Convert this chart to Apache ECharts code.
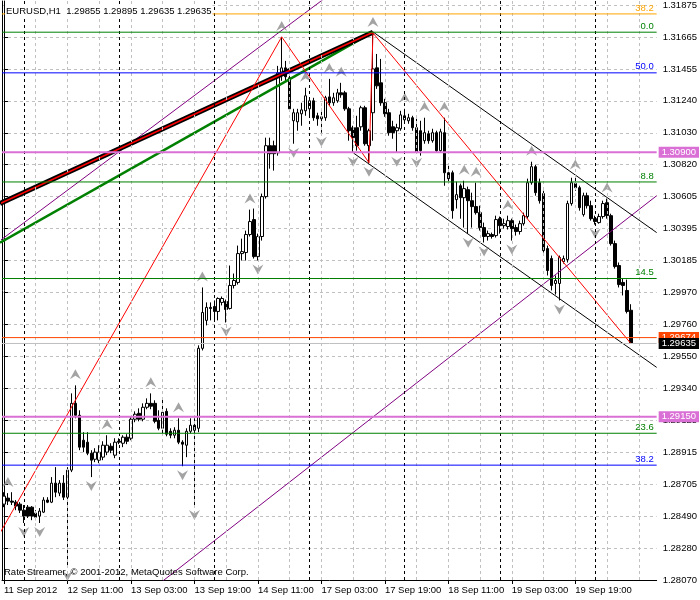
<!DOCTYPE html>
<html><head><meta charset="utf-8">
<script src="https://cdn.jsdelivr.net/npm/echarts@6/dist/echarts.min.js"></script>
<style>html,body{margin:0;padding:0;background:#fff}#c{width:700px;height:600px}</style>
</head><body><div id="c"></div>
<script>
// ---- data (EURUSD H1, one entry per bar, bar 0 = 11 Sep 2012 19:00) ----
const open = [1.28572,1.28612,1.28592,1.28585,1.28572,1.28532,1.28552,1.28552,1.28513,1.28493,
1.28519,1.28599,1.28585,1.28711,1.28645,1.28711,1.28618,1.28797,1.29239,1.29160,
1.28995,1.28982,1.28909,1.28869,1.28863,1.28883,1.28916,1.28955,1.28896,1.28988,
1.28975,1.29015,1.29008,1.29134,1.29173,1.29134,1.29213,1.29239,1.29239,1.29127,
1.29074,1.29186,1.29054,1.29028,1.29061,1.28982,1.28962,1.29054,1.29094,1.29074,
1.29603,1.29788,1.29874,1.29880,1.29847,1.29907,1.29913,1.29867,1.30019,1.30039,
1.30230,1.30237,1.30356,1.30455,1.30210,1.30343,1.30607,1.30944,1.30944,1.30897,
1.31419,1.31459,1.31393,1.31109,1.31102,1.31155,1.31175,1.31188,1.31241,1.31142,
1.31122,1.31129,1.31267,1.31228,1.31241,1.31294,1.31294,1.31188,1.31063,1.31063,
1.31069,1.31195,1.30944,1.31162,1.31459,1.31360,1.31228,1.31162,1.31069,1.31043,
1.31056,1.31115,1.31109,1.31129,1.31063,1.31043,1.30977,1.31023,1.30977,1.31030,
1.30911,1.31030,1.30765,1.30765,1.30587,1.30679,1.30600,1.30653,1.30580,1.30541,
1.30501,1.30402,1.30343,1.30356,1.30349,1.30461,1.30415,1.30409,1.30448,1.30402,
1.30376,1.30428,1.30475,1.30699,1.30805,1.30699,1.30627,1.30263,1.30197,1.30032,
1.30032,1.30177,1.30191,1.30561,1.30693,1.30666,1.30488,1.30613,1.30547,1.30461,
1.30435,1.30475,1.30567,1.30481,1.30296,1.30151,1.30039,1.29986,1.29855];
const high = [1.28651,1.28645,1.28651,1.28599,1.28585,1.28566,1.28566,1.28559,1.28532,1.28546,
1.28618,1.28618,1.28751,1.28817,1.28731,1.28764,1.28817,1.29305,1.29358,1.29193,
1.29048,1.29048,1.28929,1.28942,1.28962,1.28988,1.29028,1.28975,1.29008,1.29008,
1.29028,1.29035,1.29153,1.29186,1.29206,1.29239,1.29272,1.29305,1.29259,1.29193,
1.29272,1.29206,1.29074,1.29081,1.29140,1.28995,1.29074,1.29140,1.29140,1.29623,
1.30006,1.29907,1.29907,1.29920,1.29940,1.29946,1.29926,1.30151,1.30098,1.30283,
1.30329,1.30382,1.30521,1.30528,1.30362,1.30627,1.30997,1.30997,1.30977,1.31472,
1.31664,1.31505,1.31426,1.31188,1.31188,1.31228,1.31327,1.31254,1.31261,1.31162,
1.31188,1.31274,1.31386,1.31294,1.31320,1.31360,1.31307,1.31201,1.31076,1.31142,
1.31208,1.31208,1.31056,1.31690,1.31551,1.31518,1.31254,1.31188,1.31109,1.31089,
1.31175,1.31188,1.31155,1.31142,1.31122,1.31109,1.31129,1.31043,1.31056,1.31043,
1.31056,1.31129,1.30812,1.30779,1.30706,1.30693,1.30712,1.30673,1.30633,1.30699,
1.30547,1.30435,1.30382,1.30369,1.30481,1.30475,1.30461,1.30481,1.30461,1.30422,
1.30448,1.30501,1.30726,1.30838,1.30818,1.30726,1.30646,1.30283,1.30217,1.30085,
1.30217,1.30217,1.30580,1.30732,1.30746,1.30679,1.30633,1.30633,1.30580,1.30481,
1.30494,1.30580,1.30594,1.30494,1.30316,1.30171,1.30065,1.30058,1.29895];
const low = [1.28552,1.28566,1.28566,1.28532,1.28513,1.28447,1.28480,1.28466,1.28466,1.28447,
1.28513,1.28579,1.28579,1.28618,1.28625,1.28599,1.28156,1.28784,1.29140,1.28929,
1.28916,1.28896,1.28751,1.28850,1.28843,1.28863,1.28896,1.28909,1.28876,1.28969,
1.28949,1.28969,1.28995,1.29114,1.29120,1.29120,1.29200,1.29200,1.29107,1.29061,
1.29041,1.29021,1.29008,1.29008,1.28969,1.28823,1.28883,1.29041,1.28559,1.29048,
1.29589,1.29755,1.29788,1.29788,1.29788,1.29887,1.29774,1.29860,1.29999,1.30025,
1.30184,1.30184,1.30343,1.30197,1.30184,1.30316,1.30594,1.30792,1.30779,1.30878,
1.31373,1.31373,1.31175,1.30957,1.31043,1.31076,1.31142,1.31129,1.31109,1.31076,
1.31030,1.31109,1.31208,1.31208,1.31228,1.31261,1.31175,1.30977,1.30897,1.30911,
1.31043,1.30944,1.30831,1.30977,1.31320,1.31208,1.31135,1.31010,1.30990,1.30897,
1.31043,1.31096,1.31089,1.31043,1.30891,1.30878,1.30957,1.30957,1.30964,1.30897,
1.30897,1.30679,1.30699,1.30461,1.30528,1.30461,1.30402,1.30362,1.30402,1.30488,
1.30382,1.30303,1.30316,1.30329,1.30336,1.30362,1.30395,1.30389,1.30316,1.30349,
1.30356,1.30415,1.30461,1.30686,1.30613,1.30561,1.30237,1.30085,1.29986,1.29959,
1.29920,1.30164,1.30171,1.30547,1.30646,1.30514,1.30475,1.30528,1.30448,1.30422,
1.30428,1.30461,1.30461,1.30283,1.30131,1.30006,1.29953,1.29834,1.29635];
const close = [1.28625,1.28592,1.28585,1.28559,1.28532,1.28493,1.28493,1.28493,1.28486,1.28526,
1.28599,1.28585,1.28711,1.28651,1.28711,1.28618,1.28797,1.29239,1.29160,1.28949,
1.28949,1.28909,1.28863,1.28916,1.28916,1.28962,1.28962,1.28929,1.28982,1.28982,
1.29015,1.28988,1.29134,1.29167,1.29134,1.29213,1.29239,1.29220,1.29120,1.29074,
1.29180,1.29035,1.29028,1.29061,1.28982,1.28969,1.29054,1.29094,1.29061,1.29603,
1.29840,1.29874,1.29867,1.29847,1.29933,1.29933,1.29860,1.30019,1.30052,1.30230,
1.30243,1.30356,1.30442,1.30210,1.30343,1.30607,1.30944,1.30891,1.30891,1.31426,
1.31459,1.31400,1.31188,1.31162,1.31162,1.31181,1.31274,1.31241,1.31129,1.31122,
1.31135,1.31261,1.31228,1.31261,1.31294,1.31281,1.31188,1.31043,1.30997,1.30944,
1.31195,1.30957,1.31043,1.31452,1.31340,1.31228,1.31155,1.31030,1.31030,1.31063,
1.31148,1.31142,1.31129,1.31063,1.30904,1.30911,1.31030,1.30977,1.31030,1.30911,
1.31036,1.30765,1.30726,1.30514,1.30620,1.30600,1.30660,1.30580,1.30541,1.30501,
1.30402,1.30343,1.30362,1.30343,1.30455,1.30415,1.30428,1.30448,1.30395,1.30376,
1.30428,1.30481,1.30699,1.30805,1.30633,1.30580,1.30250,1.30118,1.30019,1.30052,
1.30204,1.30197,1.30561,1.30699,1.30666,1.30534,1.30613,1.30547,1.30461,1.30442,
1.30475,1.30561,1.30481,1.30296,1.30144,1.30025,1.30019,1.29847,1.29635];

const xTickLabels = ['11 Sep 2012','12 Sep 11:00','13 Sep 03:00','13 Sep 19:00','14 Sep 11:00',
  '17 Sep 03:00','17 Sep 19:00','18 Sep 11:00','19 Sep 03:00','19 Sep 19:00'];
const yTickLabels = ['1.28070','1.28280','1.28490','1.28705','1.28915','1.29125','1.29340','1.29550',
  '1.29760','1.29970','1.30185','1.30395','1.30605','1.30820','1.31030','1.31240','1.31455','1.31665','1.31875'];

const fractalUp = [1,18,26,37,44,50,62,70,76,82,85,93,101,106,111,116,119,127,133,144,152];
const fractalDown = [5,9,16,22,45,48,56,64,73,80,88,92,99,104,117,121,128,140,149];
const daySeparators = [5,29,53,77,101,125,149];

const levelPrices = [1.31816,1.31695,1.31426,1.30704,1.30065,1.29041,1.28830];
const levelTexts = ['38.2','0.0','50.0','8.8','14.5','23.6','38.2'];
const markPrices = [1.30900,1.29150,1.29674,1.29635];
const markTexts = ['1.30900','1.29150','1.29674','1.29635'];

// trend objects as [bar index, price]
const zigzag = [[-1,1.28381],[70,1.31664],[92,1.30831],[93,1.31690],[158,1.29635]];
const thickTrend = [[-1,1.30561],[93,1.31695]];
const greenTrend = [[-1,1.30303],[93,1.31695]];
const channelUpper = [[93,1.31697],[164.5,1.30369]];
const channelLower = [[88,1.30897],[164.5,1.29477]];
const purpleUpper = [[-1,1.30316],[85,1.32001]];
const purpleLower = [[40,1.28063],[164.5,1.30613]];

const titleText = 'EURUSD,H1  1.29855 1.29895 1.29635 1.29635';
const footText = 'Rate Streamer, \u00a9 2001-2012, MetaQuotes Software Corp.';

// ---- chart ----
const NCAT = 165;
const XL = -0.5, XR = NCAT - 0.5;
const cats = Array.from({length: NCAT}, (_, i) => String(i));
const yMin = 1.28070, yMax = 1.319015;
const yStep = (1.31875 - 1.28070) / 18;
const FONT = 'Liberation Sans, Arial, sans-serif';
const FS = 9.5;

const candleData = open.map((o, i) => [o, close[i], low[i], high[i]]);
const gridX = [];
for (let k = 8; k < NCAT; k += 8) gridX.push(k);

const levelColors = ['#FFA500','#008000','#0000FF','#008000','#008000','#008000','#0000FF'];
const markLineColors = ['#DA70D6','#DA70D6','#FF4500','#C0C0C0'];
const markBoxColors = ['#DA70D6','#DA70D6','#FF4500','#000000'];
const markWidths = [2,2,1,1];

function lineSeries(data, color, width, z) {
  return {type:'line', xAxisIndex:1, yAxisIndex:0, data, symbol:'none', silent:true,
    lineStyle:{color, width}, itemStyle:{color}, z: z || 4, clip:true, animation:false};
}
const upPath = 'path://M5,0 L10,10 L5,6.5 L0,10 Z';
const dnPath = 'path://M0,0 L5,3.5 L10,0 L5,10 Z';

const levelSeries = levelPrices.map((p, k) => lineSeries([[XL, p], [XR, p]], levelColors[k], 1, 5));
const markSeries = markPrices.map((p, k) => lineSeries([[XL, p], [XR, p]], markLineColors[k], markWidths[k], 5));

const option = {
  animation: false,
  backgroundColor: '#fff',
  title: [
    {text: titleText, left: 5, top: 5, padding: [1,1], backgroundColor: '#fff', z: 10,
     textStyle: {fontSize: FS, fontWeight: 'normal', color: '#000', fontFamily: FONT}},
    {text: footText, left: 4, top: 567, padding: 0, z: 10,
     textStyle: {fontSize: FS, fontWeight: 'normal', color: '#000', fontFamily: FONT}}
  ],
  grid: {left: 2, right: 40, top: 0, bottom: 20, show: false},
  xAxis: [
    {type:'category', data: cats, boundaryGap: true,
     axisLine:{show:true, lineStyle:{color:'#000', width:1}},
     axisTick:{show:true, alignWithLabel:true, length:4, lineStyle:{color:'#000'},
       interval:(idx)=> idx % 16 === 0 && idx/16 < xTickLabels.length},
     axisLabel:{show:true, align:'left', margin:5, fontSize:FS, fontFamily:FONT, color:'#000',
       interval:(idx)=> idx % 16 === 0 && idx/16 < xTickLabels.length,
       formatter:(v, idx)=> (idx % 16 === 0 && xTickLabels[idx/16]) ? xTickLabels[idx/16] : ''},
     splitLine:{show:false}},
    {type:'value', min:XL, max:XR, show:false}
  ],
  yAxis: [
    {type:'value', position:'right', min:yMin, max:yMax, interval:yStep, scale:true,
     axisLine:{show:true, lineStyle:{color:'#000'}},
     axisTick:{show:true, length:4, lineStyle:{color:'#000'}},
     axisLabel:{show:true, margin:6, fontSize:FS, fontFamily:FONT, color:'#000',
       showMaxLabel:false,
       formatter:(v)=>{ const k = Math.round((v - yMin)/yStep);
         if (Math.abs(v - (yMin + k*yStep)) > yStep/4) return '';
         return yTickLabels[k] || ''; }},
     splitLine:{show:true, showMaxLine:false, lineStyle:{color:'#C0C0C0', type:[3,3], width:1}}},
    {type:'value', position:'left', min:yMin, max:yMax,
     axisLine:{show:true, onZero:false, lineStyle:{color:'#000'}},
     axisTick:{show:false}, axisLabel:{show:false}, splitLine:{show:false}}
  ],
  series: [
    // vertical grid + day separators
    {type:'line', xAxisIndex:1, yAxisIndex:0, data:[], silent:true, z:1,
     markLine:{silent:true, symbol:['none','none'], label:{show:false}, animation:false, precision:6,
       data: gridX.map(k => ({xAxis:k, lineStyle:{color:'#C0C0C0', type:[3,3], width:1}}))
         .concat(daySeparators.map(k => ({xAxis:k, lineStyle:{color:'#000', type:[3,3], width:1}})))}},
    // candles
    {type:'candlestick', xAxisIndex:0, yAxisIndex:0, data:candleData, barWidth:3, z:2, silent:true,
     itemStyle:{color:'#fff', color0:'#000', borderColor:'#000', borderColor0:'#000', borderWidth:1}},
    // trend objects
    lineSeries(purpleUpper, '#800080', 1, 3),
    lineSeries(purpleLower, '#800080', 1, 3),
    lineSeries(channelUpper, '#000', 1, 3),
    lineSeries(channelLower, '#000', 1, 3),
    lineSeries(greenTrend, '#008000', 2.5, 4),
    lineSeries(thickTrend, '#000', 5, 4),
    lineSeries(thickTrend, '#FF0000', 1.5, 4),
    lineSeries(zigzag, '#FF0000', 1, 4),
    // fractals
    {type:'scatter', xAxisIndex:1, yAxisIndex:0, silent:true, z:4,
     data: fractalUp.map(i => [i, high[i]]), symbol: upPath, symbolSize:[11,10],
     symbolOffset:[0,-11], itemStyle:{color:'#8C8C8C'}},
    {type:'scatter', xAxisIndex:1, yAxisIndex:0, silent:true, z:4,
     data: fractalDown.map(i => [i, low[i]]), symbol: dnPath, symbolSize:[11,10],
     symbolOffset:[0,9], itemStyle:{color:'#8C8C8C'}},
    // horizontal levels (lines)
    ...levelSeries,
    ...markSeries,
    // labels for horizontal levels
    {type:'line', xAxisIndex:1, yAxisIndex:0, data:[], silent:true, z:8, clip:false,
     markLine:{silent:true, symbol:['none','none'], animation:false, precision:6,
       lineStyle:{color:'rgba(255,255,255,0)', width:1, type:'solid'},
       data: levelPrices.map((p, k) => ({yAxis:p,
         label:{show:true, position:'insideEndTop', distance:[3,1], formatter:levelTexts[k],
           color:levelColors[k], fontSize:FS, fontFamily:FONT}}))
       .concat(markPrices.map((p, k) => ({yAxis:p,
         label:{show:true, position:'end', distance:2, formatter:markTexts[k],
           color:'#fff', backgroundColor:markBoxColors[k], padding:[1,3,0,3],
           fontSize:FS, fontFamily:FONT}})))}}
  ]
};

const chart = echarts.init(document.getElementById('c'), null, {renderer:'canvas'});
chart.setOption(option);
</script>
</body></html>
